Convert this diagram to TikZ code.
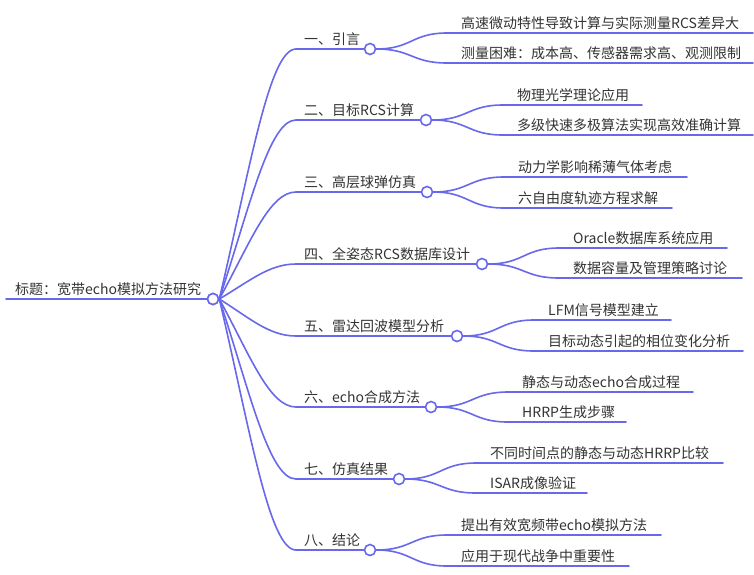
\documentclass[tikz,border=0pt]{standalone}
\usepackage{fontspec}
\setmainfont{Noto Sans CJK SC}
\usetikzlibrary{calc}
\definecolor{edgec}{RGB}{104,104,236}
\definecolor{inkc}{RGB}{51,51,51}
\newcommand\mmBranch[4]{% id, y, circle x, text
  \node[dot] (#1) at (#3,#2) {};
  \coordinate (#1s) at (296,#2);
  \node[lab] (#1t) at (304,{#2-5}) {#4};
  \draw[link] (#1s) -- (#1.west);
  \draw[link] let \p1=(R.east), \p2=(#1s) in (\p1) .. controls ({\x1+0.4*(\x2-\x1)},{\y1+0.52*(\y2-\y1)}) and ({\x1+0.65*(\x2-\x1)},\y2) .. (\p2);
}
\newcommand\mmLeaf[6]{% parent, id, y, start x, end x, text
  \coordinate (#2s) at (#4,#3);
  \coordinate (#2e) at (#5,#3);
  \node[lab] (#2) at ({#4+14},{#3-5}) {#6};
  \draw[link] (#2s) -- (#2e);
  \draw[link] let \p1=(#1.east), \p2=(#2s) in (\p1) .. controls ({(\x1+\x2)/2},\y1) and ({(\x1+\x2)/2},\y2) .. (\p2);
}
\begin{document}
\begin{tikzpicture}[x=1pt,y=-1pt,
  link/.style={draw=edgec,line width=1.6pt,line cap=round},
  dot/.style={circle,draw=edgec,fill=white,line width=1.6pt,minimum size=11pt,inner sep=0pt},
  lab/.style={text=inkc,font=\fontsize{14}{16}\selectfont,inner sep=0pt,anchor=base west}]
\useasboundingbox (0,0) rectangle (754,574);
\fill[white] (0,0) rectangle (754,574);
% root
\coordinate (R0) at (6,299);
\node[lab] (root) at (15,294) {标题：宽带echo模拟方法研究};
\draw[link] (R0) -- (213,299);
\node[dot] (R) at (213,299) {};
% branches
\mmBranch{B1}{49}{370}{一、引言}
\mmBranch{B2}{120}{426}{二、目标RCS计算}
\mmBranch{B3}{192}{427}{三、高层球弹仿真}
\mmBranch{B4}{264}{482}{四、全姿态RCS数据库设计}
\mmBranch{B5}{336}{457}{五、雷达回波模型分析}
\mmBranch{B6}{407}{431}{六、echo合成方法}
\mmBranch{B7}{479}{399}{七、仿真结果}
\mmBranch{B8}{550}{370}{八、结论}
\node[dot] at (R) {};
% leaves
\mmLeaf{B1}{L11}{33}{447}{753}{高速微动特性导致计算与实际测量RCS差异大}
\mmLeaf{B1}{L12}{63}{447}{753}{测量困难：成本高、传感器需求高、观测限制}
\mmLeaf{B2}{L21}{105}{503}{642}{物理光学理论应用}
\mmLeaf{B2}{L22}{135}{503}{753}{多级快速多极算法实现高效准确计算}
\mmLeaf{B3}{L31}{177}{504}{687}{动力学影响稀薄气体考虑}
\mmLeaf{B3}{L32}{208}{504}{672}{六自由度轨迹方程求解}
\mmLeaf{B4}{L41}{248}{559}{727}{Oracle数据库系统应用}
\mmLeaf{B4}{L42}{278}{559}{742}{数据容量及管理策略讨论}
\mmLeaf{B5}{L51}{320}{534}{671}{LFM信号模型建立}
\mmLeaf{B5}{L52}{351}{534}{743}{目标动态引起的相位变化分析}
\mmLeaf{B6}{L61}{392}{508}{693}{静态与动态echo合成过程}
\mmLeaf{B6}{L62}{422}{508}{626}{HRRP生成步骤}
\mmLeaf{B7}{L71}{463}{476}{723}{不同时间点的静态与动态HRRP比较}
\mmLeaf{B7}{L72}{493}{476}{587}{ISAR成像验证}
\mmLeaf{B8}{L81}{535}{447}{661}{提出有效宽频带echo模拟方法}
\mmLeaf{B8}{L82}{566}{447}{629}{应用于现代战争中重要性}
\end{tikzpicture}
\end{document}
